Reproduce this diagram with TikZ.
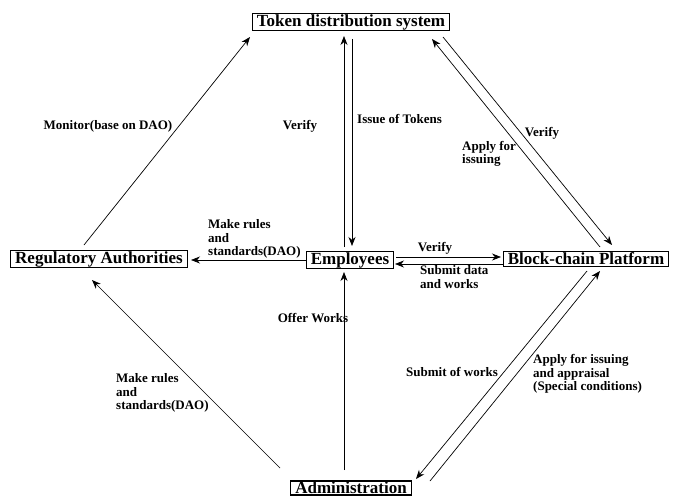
\documentclass[tikz,border=0pt]{standalone}
\usepackage{fontspec}
\setmainfont{Liberation Serif}
\usetikzlibrary{arrows.meta}
\begin{document}
\begin{tikzpicture}[x=1pt,y=-1pt,
  box/.style={draw,line width=1.1pt,inner xsep=4.5pt,inner ysep=1pt,font=\bfseries\fontsize{17}{18}\selectfont},
  lbl/.style={font=\bfseries\fontsize{13}{13.5}\selectfont,inner sep=0pt},
  arr/.style={line width=0.7pt,-{Stealth[length=9pt,width=7pt]}}]
\useasboundingbox (0,0) rectangle (674,500);
\node[box] (tok) at (351,22) {Token distribution system};
\node[box] (reg) at (99,259) {Regulatory Authorities};
\node[box] (emp) at (350,260) {Employees};
\node[box] (bcp) at (586,259) {Block-chain Platform};
\node[box] (adm) at (351,488) {Administration};
% endpoints
\coordinate (r1) at (84,245);   \coordinate (t1) at (250,37);
\coordinate (e1) at (344,247);  \coordinate (t2) at (344,36);
\coordinate (t3) at (352,39);   \coordinate (e2) at (352,246);
\coordinate (e3) at (306,260);  \coordinate (r2) at (191,260);
\coordinate (e4) at (396,257);  \coordinate (b1) at (501,257);
\coordinate (b2) at (503,264);  \coordinate (e5) at (395,264);
\coordinate (b3) at (600,247);  \coordinate (t4) at (432,39);
\coordinate (t5) at (443,37);   \coordinate (b4) at (612,245);
\coordinate (b5) at (587,271);  \coordinate (a1) at (416,479);
\coordinate (a2) at (430,481);  \coordinate (b6) at (600,271);
\coordinate (a3) at (344,470);  \coordinate (e6) at (344,272);
\coordinate (a4) at (280,468);  \coordinate (r3) at (92,280);
\draw[arr] (r1) -- (t1);
\draw[arr] (e1) -- (t2);
\draw[arr] (t3) -- (e2);
\draw[arr] (e3) -- (r2);
\draw[arr] (e4) -- (b1);
\draw[arr] (b2) -- (e5);
\draw[arr] (b3) -- (t4);
\draw[arr] (t5) -- (b4);
\draw[arr] (b5) -- (a1);
\draw[arr] (a2) -- (b6);
\draw[arr] (a3) -- (e6);
\draw[arr] (a4) -- (r3);
% labels
\node[lbl] (l1) at (108,126) {Monitor(base on DAO)};
\node[lbl] (l2) at (300,126) {Verify};
\node[lbl,anchor=west] (l3) at (357,119) {Issue of Tokens};
\node[lbl,anchor=west,align=left] (l4) at (208,239) {Make rules\\and\\standards(DAO)};
\node[lbl] (l5) at (435,248) {Verify};
\node[lbl,anchor=west,align=left] (l6) at (420,277) {Submit data\\and works};
\node[lbl] (l7) at (542,133) {Verify};
\node[lbl,anchor=west,align=left] (l8) at (462,154) {Apply for\\issuing};
\node[lbl] (l9) at (452,372) {Submit of works};
\node[lbl,anchor=west,align=left] (l10) at (533,374) {Apply for issuing\\and appraisal\\(Special conditions)};
\node[lbl] (l11) at (313,318) {Offer Works};
\node[lbl,anchor=west,align=left] (l12) at (116,393) {Make rules\\and\\standards(DAO)};
\end{tikzpicture}
\end{document}
